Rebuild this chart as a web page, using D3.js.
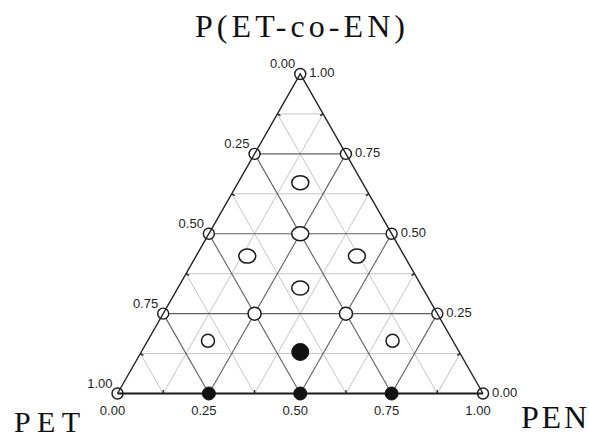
<!DOCTYPE html>
<html>
<head>
<meta charset="utf-8">
<script src="https://cdn.jsdelivr.net/npm/d3@7"></script>
<style>
  html, body { margin: 0; padding: 0; background: #fff; }
  svg { display: block; }
</style>
</head>
<body>
<svg id="chart" width="589" height="439"></svg>
<script>
// Component names at the three corners
const topName = "P(ET-co-EN)";
const leftName = "PET";
const rightName = "PEN";

// Compositions as [P(ET-co-EN), PET, PEN] fractions
const edgePoints = [
  [1, 0, 0], [0, 1, 0], [0, 0, 1],
  [0.75, 0.25, 0], [0.75, 0, 0.25],
  [0.5, 0.5, 0], [0.5, 0, 0.5],
  [0.25, 0.75, 0], [0.25, 0, 0.75]
];
const interiorPoints = [
  [0.25, 0.5, 0.25], [0.25, 0.25, 0.5],
  [0.165, 0.67, 0.165], [0.165, 0.165, 0.67]
];
const ovalPoints = [
  [0.66, 0.17, 0.17], [0.5, 0.25, 0.25],
  [0.43, 0.43, 0.14], [0.43, 0.13, 0.44],
  [0.33, 0.335, 0.335]
];
const filledPoints = [
  [0, 0.75, 0.25], [0, 0.5, 0.5], [0, 0.25, 0.75],
  [0.13, 0.435, 0.435]
];

// Axis tick values and grid divisions
const tickValues = [0, 0.25, 0.5, 0.75, 1];
const gridLevels = [0.125, 0.25, 0.375, 0.5, 0.625, 0.75, 0.875];

const svg = d3.select("#chart");

// Triangle frame: u = PEN + P(ET-co-EN)/2 runs left to right, a = P(ET-co-EN) runs bottom to top
const xScale = d3.scaleLinear().domain([0, 1]).range([117.5, 483]);
const yScale = d3.scaleLinear().domain([0, 1]).range([393.5, 74]);
const proj = ([a, b, c]) => [xScale(c + a / 2), yScale(a)];

const fmt = d3.format(".2f");
const isMajor = t => Math.abs((t / 0.25) - Math.round(t / 0.25)) < 1e-6;

// Grid lines for each component
const gridLines = [];
gridLevels.forEach(t => {
  gridLines.push({ t, p: [[t, 1 - t, 0], [t, 0, 1 - t]] });   // constant P(ET-co-EN)
  gridLines.push({ t, p: [[1 - t, t, 0], [0, t, 1 - t]] });   // constant PET
  gridLines.push({ t, p: [[1 - t, 0, t], [0, 1 - t, t]] });   // constant PEN
});

const gGrid = svg.append("g");
gGrid.selectAll("line.minor")
  .data(gridLines.filter(d => !isMajor(d.t)))
  .join("line")
  .attr("x1", d => proj(d.p[0])[0]).attr("y1", d => proj(d.p[0])[1])
  .attr("x2", d => proj(d.p[1])[0]).attr("y2", d => proj(d.p[1])[1])
  .attr("stroke", "#c6c6c6").attr("stroke-width", 1);
gGrid.selectAll("line.major")
  .data(gridLines.filter(d => isMajor(d.t)))
  .join("line")
  .attr("x1", d => proj(d.p[0])[0]).attr("y1", d => proj(d.p[0])[1])
  .attr("x2", d => proj(d.p[1])[0]).attr("y2", d => proj(d.p[1])[1])
  .attr("stroke", "#606060").attr("stroke-width", 1.1);

// Small ticks on the frame at the intermediate divisions
const minorLevels = gridLevels.filter(t => !isMajor(t));
const tickSegs = [];
minorLevels.forEach(t => {
  tickSegs.push({ p: [1 - t, t, 0], dir: [0.866, 0.5] });     // left edge
  tickSegs.push({ p: [t, 0, 1 - t], dir: [-0.866, 0.5] });    // right edge
  tickSegs.push({ p: [0, 1 - t, t], dir: [0, -1] });          // bottom edge
});
svg.append("g").selectAll("line")
  .data(tickSegs)
  .join("line")
  .attr("x1", d => proj(d.p)[0]).attr("y1", d => proj(d.p)[1])
  .attr("x2", d => proj(d.p)[0] + d.dir[0] * 3.5)
  .attr("y2", d => proj(d.p)[1] + d.dir[1] * 3.5)
  .attr("stroke", "#222").attr("stroke-width", 1.3);

// Markers on the frame (drawn first so the edges pass through them)
const gMarks = svg.append("g");
gMarks.selectAll("circle.edge")
  .data(edgePoints)
  .join("circle")
  .attr("cx", d => proj(d)[0]).attr("cy", d => proj(d)[1])
  .attr("r", 5.5)
  .attr("fill", "#fff").attr("stroke", "#1a1a1a").attr("stroke-width", 1.4);

// Triangle frame
const corners = [[1, 0, 0], [0, 1, 0], [0, 0, 1]].map(proj);
svg.append("path")
  .attr("d", d3.line()([corners[1], corners[0], corners[2]]))
  .attr("fill", "none").attr("stroke", "#222").attr("stroke-width", 1.4);
svg.append("line")
  .attr("x1", corners[1][0]).attr("y1", corners[1][1])
  .attr("x2", corners[2][0]).attr("y2", corners[2][1])
  .attr("stroke", "#1a1a1a").attr("stroke-width", 2.2);

const gTop = svg.append("g");
gTop.selectAll("circle.interior")
  .data(interiorPoints)
  .join("circle")
  .attr("cx", d => proj(d)[0]).attr("cy", d => proj(d)[1])
  .attr("r", 6.5)
  .attr("fill", "#fff").attr("stroke", "#1a1a1a").attr("stroke-width", 1.5);
gTop.selectAll("ellipse.oval")
  .data(ovalPoints)
  .join("ellipse")
  .attr("cx", d => proj(d)[0]).attr("cy", d => proj(d)[1])
  .attr("rx", 8.5).attr("ry", 7)
  .attr("fill", "#fff").attr("stroke", "#1a1a1a").attr("stroke-width", 1.5);
gTop.selectAll("circle.filled")
  .data(filledPoints)
  .join("circle")
  .attr("cx", d => proj(d)[0]).attr("cy", d => proj(d)[1])
  .attr("r", d => d[0] > 0 ? 8.5 : 6.5)
  .attr("fill", "#111").attr("stroke", "#111").attr("stroke-width", 1);

// Tick labels along the three edges
const labelFont = "'Liberation Sans', Arial, sans-serif";
const gLab = svg.append("g")
  .attr("font-family", labelFont).attr("font-size", 13).attr("fill", "#1e1e1e");

// Left edge: PET fraction, 0 at the top corner
gLab.selectAll("text.left")
  .data(tickValues)
  .join("text")
  .attr("x", v => proj([1 - v, v, 0])[0] - 5)
  .attr("y", v => proj([1 - v, v, 0])[1] - 9)
  .attr("text-anchor", "end").attr("dominant-baseline", "middle")
  .text(fmt);

// Right edge: P(ET-co-EN) fraction, 1 at the top corner
gLab.selectAll("text.right")
  .data(tickValues)
  .join("text")
  .attr("x", v => proj([v, 0, 1 - v])[0] + 9)
  .attr("y", v => proj([v, 0, 1 - v])[1])
  .attr("text-anchor", "start").attr("dominant-baseline", "middle")
  .text(fmt);

// Bottom edge: PEN fraction, 0 at the left corner
gLab.selectAll("text.bottom")
  .data(tickValues)
  .join("text")
  .attr("x", v => proj([0, 1 - v, v])[0] - 5)
  .attr("y", v => proj([0, 1 - v, v])[1] + 18)
  .attr("text-anchor", "middle").attr("dominant-baseline", "middle")
  .text(fmt);

// Corner titles
const serif = "'Liberation Serif', 'Times New Roman', serif";
svg.append("text")
  .attr("x", 195).attr("y", 37)
  .attr("font-family", serif).attr("font-size", 32).attr("fill", "#111")
  .attr("textLength", 210).attr("lengthAdjust", "spacing")
  .text(topName);
svg.append("text")
  .attr("x", 14).attr("y", 432)
  .attr("font-family", serif).attr("font-size", 30).attr("fill", "#111")
  .attr("textLength", 66).attr("lengthAdjust", "spacing")
  .text(leftName);
svg.append("text")
  .attr("x", 521).attr("y", 428)
  .attr("font-family", serif).attr("font-size", 32).attr("fill", "#111")
  .attr("textLength", 66).attr("lengthAdjust", "spacing")
  .text(rightName);
</script>
</body>
</html>
